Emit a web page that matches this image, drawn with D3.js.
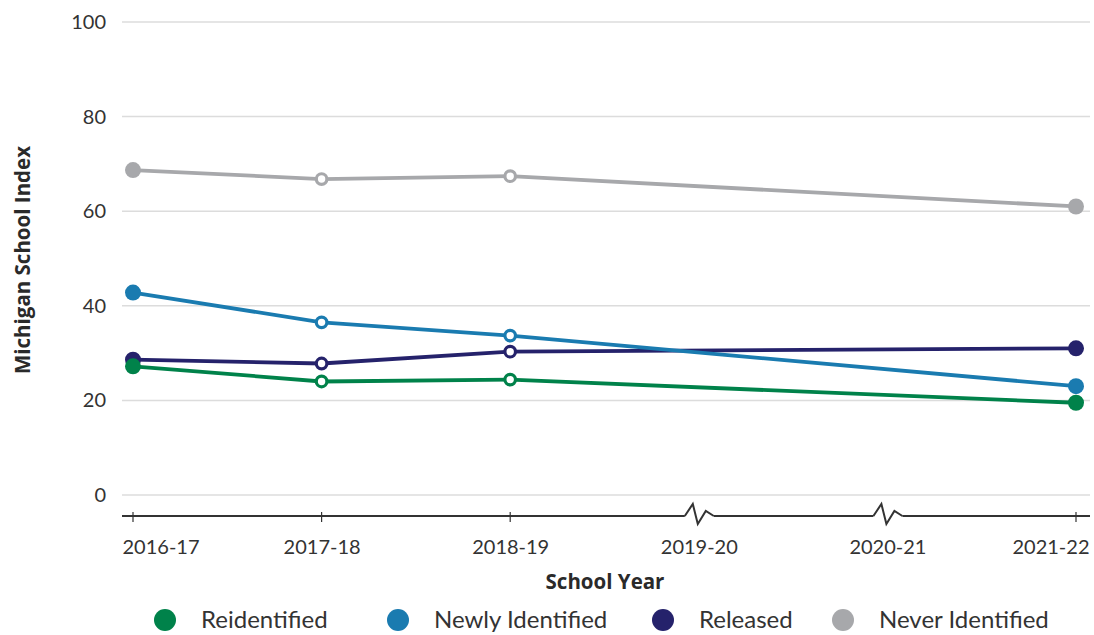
<!DOCTYPE html>
<html><head><meta charset="utf-8">
<script src="https://cdn.jsdelivr.net/npm/d3@7"></script>
<style>body{margin:0;background:#fff;font-family:Lato,"Open Sans",sans-serif}</style>
</head><body><svg id="c" width="1094" height="635"></svg>
<script>
const years = ["2016-17","2017-18","2018-19","2019-20","2020-21","2021-22"];
const dataYears = ["2016-17","2017-18","2018-19","2021-22"];
const breakYears = ["2019-20","2020-21"];
const reidentified = [27.2, 24.0, 24.4, 19.5];
const newlyIdentified = [42.8, 36.5, 33.7, 23.0];
const released = [28.6, 27.8, 30.3, 31.0];
const neverIdentified = [68.7, 66.8, 67.4, 61.0];
const yTicks = [0,20,40,60,80,100];
const seriesNames = ["Reidentified","Newly Identified","Released","Never Identified"];
const colors = ["#00824a","#1a7bb0","#25226b","#a7a8ab"];
const seriesVals = [reidentified,newlyIdentified,released,neverIdentified];

const svg = d3.select("#c");
const x = d3.scalePoint().domain(years).range([133,1076]);
const y = d3.scaleLinear().domain([0,100]).range([495,22]);
const axisY = 516;

// gridlines
svg.append("g").selectAll("line").data(yTicks).join("line")
  .attr("x1",122).attr("x2",1090).attr("y1",d=>y(d)).attr("y2",d=>y(d))
  .attr("stroke","#dcdcdc").attr("stroke-width",1.5);
svg.append("g").selectAll("text").data(yTicks).join("text")
  .attr("x",106).attr("y",d=>y(d)).attr("dy","0.35em").attr("text-anchor","end")
  .attr("font-size",20).attr("fill","#333").text(d=>d);

// x axis with breaks
const xa = svg.append("g").attr("transform",`translate(0,${axisY})`);
xa.call(d3.axisBottom(x).tickSize(0).tickPadding(24))
  .call(g=>g.select(".domain").remove());
xa.selectAll("text").attr("font-size",20).attr("fill","#333").attr("font-family","Lato,sans-serif")
  .attr("text-anchor",(d,i)=>i===0?"start":(i===years.length-1?"end":"middle"))
  .attr("dx",(d,i)=>i===0?-11:(i===years.length-1?13:0));
// axis line pieces
let segs = [122];
breakYears.forEach(b=>{segs.push(x(b)-14); segs.push(x(b)+15);});
segs.push(1090);
for(let i=0;i<segs.length;i+=2){
  xa.append("line").attr("x1",segs[i]).attr("x2",segs[i+1]).attr("stroke","#333").attr("stroke-width",2);
}
breakYears.forEach(b=>{
  const cx = x(b);
  xa.append("path").attr("d",`M${cx-14},0 L${cx-6},-12 L${cx-1},8 L${cx+7},-5 L${cx+15},0`)
    .attr("fill","none").attr("stroke","#333").attr("stroke-width",2).attr("stroke-linejoin","miter");
});
xa.selectAll(".tk").data(dataYears).join("line").attr("class","tk")
  .attr("x1",d=>x(d)).attr("x2",d=>x(d)).attr("y1",-4).attr("y2",6)
  .attr("stroke","#333").attr("stroke-width",1.2);

// lines
const line = d3.line().x(d=>x(d[0])).y(d=>y(d[1]));
seriesVals.slice().reverse().forEach((vals,ri)=>{
  const i = seriesVals.length-1-ri;
  const pts = dataYears.map((yr,j)=>[yr,vals[j]]);
  svg.append("path").datum(pts).attr("d",line).attr("fill","none")
    .attr("stroke",colors[i]).attr("stroke-width",3.8);
});
seriesVals.slice().reverse().forEach((vals,ri)=>{
  const i = seriesVals.length-1-ri;
  const pts = dataYears.map((yr,j)=>[yr,vals[j],j]);
  svg.append("g").selectAll("circle").data(pts).join("circle")
    .attr("cx",d=>x(d[0])).attr("cy",d=>y(d[1]))
    .attr("r",d=>(d[2]===0||d[2]===pts.length-1)?8:5.3)
    .attr("fill",d=>(d[2]===0||d[2]===pts.length-1)?colors[i]:"#fff")
    .attr("stroke",colors[i]).attr("stroke-width",d=>(d[2]===0||d[2]===pts.length-1)?0:3.2);
});

// axis titles
svg.append("text").attr("x",605).attr("y",589).attr("text-anchor","middle")
  .attr("font-family","'Open Sans',sans-serif")
  .attr("font-size",20.5).attr("font-weight","bold").attr("fill","#2a2a2a").text("School Year");
svg.append("text").attr("transform","translate(30,260) rotate(-90)").attr("text-anchor","middle")
  .attr("font-family","'Open Sans',sans-serif")
  .attr("font-size",20.5).attr("font-weight","bold").attr("fill","#2a2a2a").text("Michigan School Index");

// legend
const legX = [165,398,663,843];
const lg = svg.append("g").selectAll("g").data(seriesNames).join("g")
  .attr("transform",(d,i)=>`translate(${legX[i]},620)`);
lg.append("circle").attr("r",11).attr("fill",(d,i)=>colors[i]);
lg.append("text").attr("x",36).attr("dy","0.35em").attr("font-size",24).attr("fill","#333").text(d=>d);
</script></body></html>
